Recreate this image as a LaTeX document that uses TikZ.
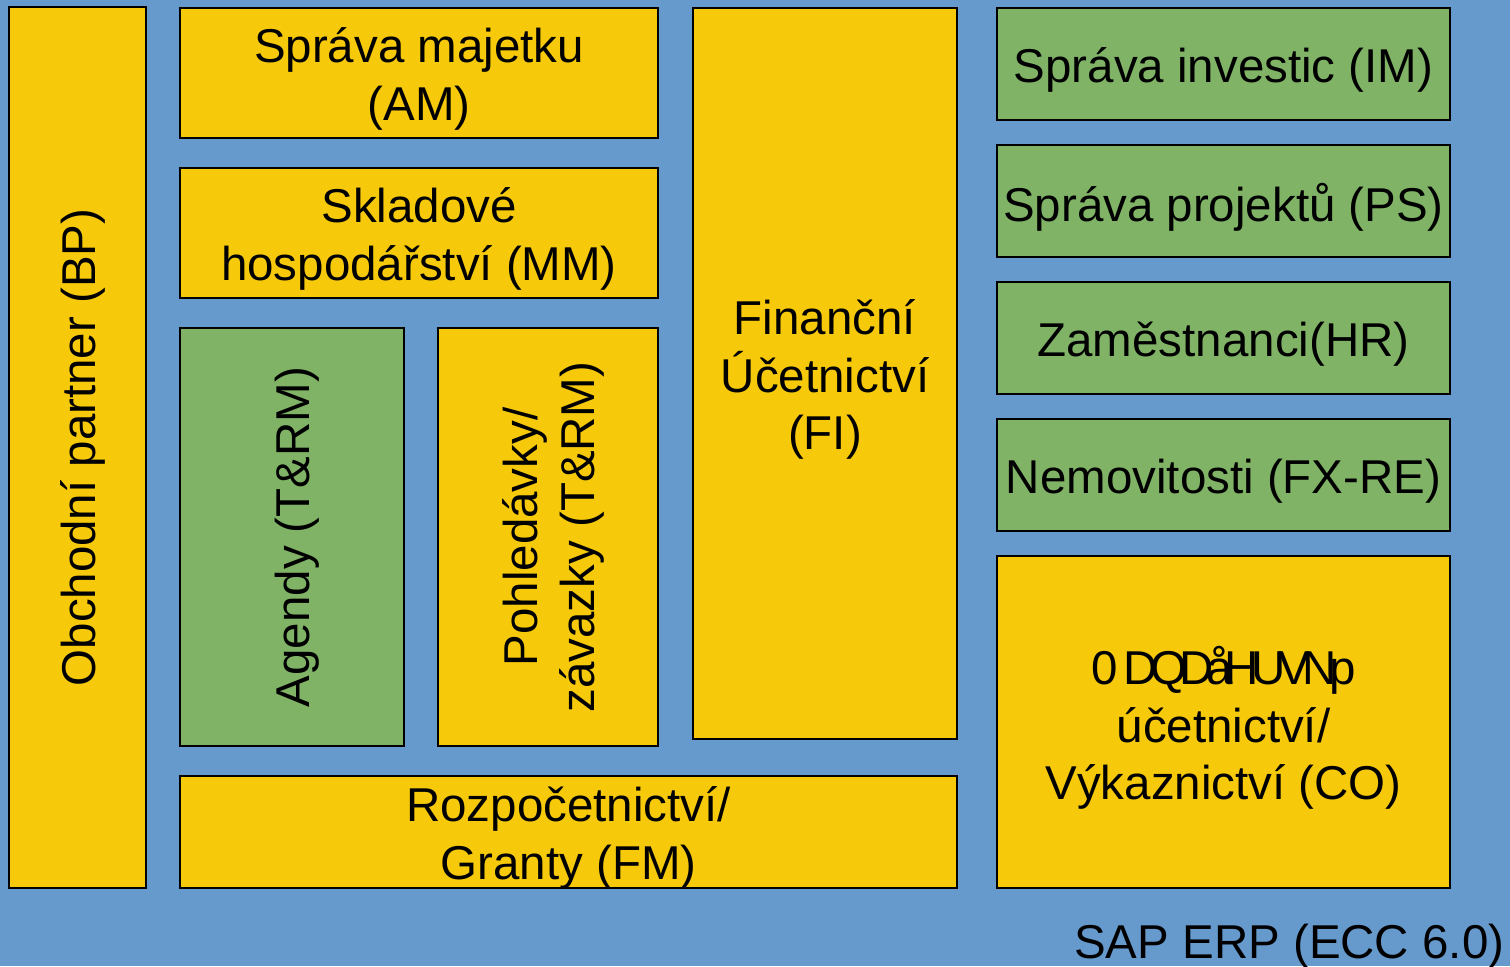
\documentclass[tikz,border=0pt]{standalone}
\usepackage{fontspec}
\setmainfont{Liberation Sans}
\usetikzlibrary{calc}
\definecolor{sapblue}{HTML}{6699CC}
\definecolor{sapyellow}{HTML}{F6C90B}
\definecolor{sapgreen}{HTML}{80B366}
\newcommand \modbox[8][]
{
\draw[modline,fill=#7] (#3,#4) rectangle (#5,#6);
\node[modtext,#1] (#2) at ($(#3,#4)!0.5!(#5,#6)$) {#8};
}
\tikzset{modline/.style={draw=black,line width=0.6pt},
  modtext/.style={align=center,inner sep=0pt,yshift=-1.7pt,font=\fontsize{13.5}{16.4}\selectfont},
  vtext/.style={yshift=1.7pt,xshift=1.5pt,rotate=90}}
\begin{document}
\begin{tikzpicture}[x=0.01cm,y=-0.01cm]
\fill[sapblue] (0,0) rectangle (1510,966);
\useasboundingbox (0,0) rectangle (1510,966);
\modbox[vtext]{bp}{9}{7}{146}{888}{sapyellow}{Obchodní partner (BP)}
\modbox{am}{180}{8}{658}{138}{sapyellow}{Správa majetku\\(AM)}
\modbox{mm}{180}{168}{658}{298}{sapyellow}{Skladové\\hospodářství (MM)}
\modbox[vtext]{agenda}{180}{328}{404}{746}{sapgreen}{Agendy (T\&RM)}
\modbox[vtext]{pohl}{438}{328}{658}{746}{sapyellow}{Pohledávky/\\závazky (T\&RM)}
\modbox{fi}{693}{8}{957}{739}{sapyellow}{Finanční\\Účetnictví\\(FI)}
\modbox{fm}{180}{776}{957}{888}{sapyellow}{Rozpočetnictví/\\Granty (FM)}
\modbox{im}{997}{8}{1450}{120}{sapgreen}{Správa investic (IM)}
\modbox{ps}{997}{145}{1450}{257}{sapgreen}{Správa projektů (PS)}
\modbox{hr}{997}{282}{1450}{394}{sapgreen}{Zaměstnanci(HR)}
\modbox{re}{997}{419}{1450}{531}{sapgreen}{Nemovitosti (FX-RE)}
\modbox{co}{997}{556}{1450}{888}{sapyellow}{{\addfontfeatures{LetterSpace=-16}0 DQDåHUVNp}\\účetnictví/\\Výkaznictví (CO)}
\node[modtext,anchor=base east,yshift=1.7pt] (erp) at (1505,958) {SAP ERP (ECC 6.0)};
\end{tikzpicture}
\end{document}
